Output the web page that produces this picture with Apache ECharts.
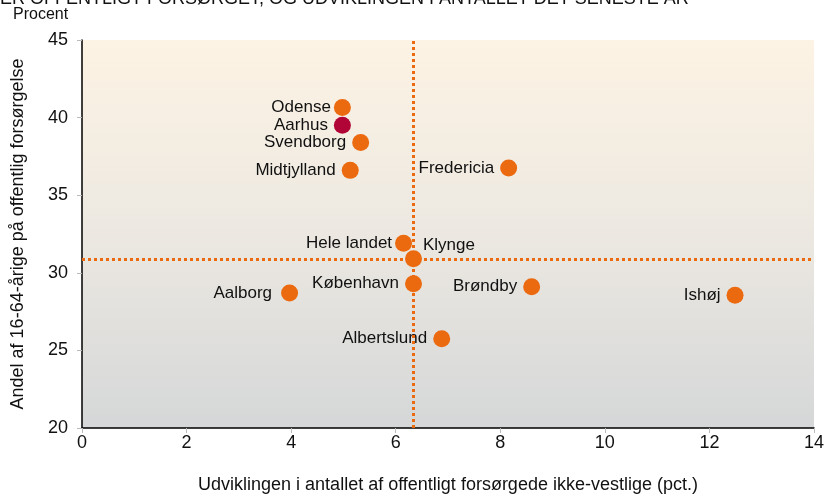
<!DOCTYPE html>
<html>
<head>
<meta charset="utf-8">
<script src="https://cdn.jsdelivr.net/npm/echarts@6/dist/echarts.min.js"></script>
<style>
  html, body { margin: 0; padding: 0; background: #fff; overflow: hidden; }
  #main { width: 824px; height: 496px; }
</style>
</head>
<body>
<div id="main"></div>
<script>
var names = ['Odense', 'Aarhus', 'Svendborg', 'Midtjylland', 'Fredericia', 'Hele landet',
    'Klynge', 'København', 'Brøndby', 'Ishøj', 'Aalborg', 'Albertslund'];
var growth = [4.98, 4.98, 5.33, 5.13, 8.16, 6.15, 6.34, 6.34, 8.6, 12.49, 3.97, 6.88];
var share = [40.65, 39.5, 38.4, 36.6, 36.75, 31.9, 30.9, 29.3, 29.1, 28.55, 28.7, 25.75];
var refX = 6.34;
var refY = 30.9;
var xTicks = [0, 14, 2];
var yTicks = [20, 45, 5];

var orange = '#ec6a0f';
var crimson = '#b10537';
var font = 'Liberation Sans, Arial, sans-serif';

var chart = echarts.init(document.getElementById('main'));

// label placement, tweaked by hand so the labels don't collide
var labelFor = function (n) {
    if (n == 'Klynge') return { position: 'right', distance: 1, offset: [0, -14] };
    if (n == 'Odense' || n == 'Hele landet') return { position: 'left', distance: 3 };
    if (n == 'Aalborg') return { position: 'left', distance: 9 };
    return { position: 'left', distance: 6 };
};

var points = names.map(function (n, i) {
    return {
        name: n,
        value: [growth[i], share[i]],
        itemStyle: { color: n == 'Aarhus' ? crimson : orange, opacity: 1 },
        label: labelFor(n)
    };
});

var option = {
    animation: false,
    textStyle: { fontFamily: font },
    graphic: [{
        type: 'text',
        style: { x: 0, y: 8, verticalAlign: 'bottom', text: 'ER OFFENTLIGT FORSØRGET, OG UDVIKLINGEN I ANTALLET DET SENESTE ÅR', font: '18px ' + font, fill: '#111' }
    }, {
        type: 'text', left: 13, top: 7,
        style: { text: 'Procent', font: '16px ' + font, fill: '#111' }
    }],
    grid: {
        left: 82, top: 40, right: 10, bottom: 68,
        outerBoundsMode: 'none',
        containLabel: false,
        show: true,
        borderWidth: 0,
        backgroundColor: {
            type: 'linear', x: 0, y: 0, x2: 0, y2: 1,
            colorStops: [{ offset: 0, color: '#fdf3e4' }, { offset: 0.5, color: '#ece8e1' }, { offset: 1, color: '#d5d7d8' }]
        }
    },
    xAxis: {
        type: 'value',
        min: xTicks[0], max: xTicks[1], interval: xTicks[2],
        name: 'Udviklingen i antallet af offentligt forsørgede ikke-vestlige (pct.)',
        nameLocation: 'middle', nameGap: 48,
        nameTextStyle: { fontSize: 18, color: '#111' },
        axisLine: { lineStyle: { color: '#000', width: 1.5 } },
        axisTick: { show: true, length: 5, lineStyle: { color: '#bbb' } },
        axisLabel: { fontSize: 18, color: '#111', margin: 6 },
        splitLine: { show: false }
    },
    yAxis: {
        type: 'value',
        min: yTicks[0], max: yTicks[1], interval: yTicks[2],
        name: 'Andel af 16-64-årige på offentlig forsørgelse',
        nameLocation: 'middle', nameGap: 55, nameRotate: 90,
        nameTextStyle: { fontSize: 18, color: '#111' },
        axisLine: { show: true, lineStyle: { color: '#000', width: 1.5 } },
        axisTick: { show: true, length: 5, lineStyle: { color: '#bbb' } },
        axisLabel: { fontSize: 18, color: '#111', margin: 14 },
        splitLine: { show: false }
    },
    series: [{
        type: 'scatter',
        symbolSize: 17,
        data: points,
        label: {
            show: true,
            formatter: '{b}',
            fontSize: 17,
            color: '#111'
        },
        markLine: {
            silent: true,
            symbol: 'none',
            label: { show: false },
            lineStyle: { color: orange, type: [3, 3], width: 3, opacity: 1 },
            data: [{ xAxis: refX }, { yAxis: refY }]
        },
        z: 3
    }]
};

chart.setOption(option);
</script>
</body>
</html>
